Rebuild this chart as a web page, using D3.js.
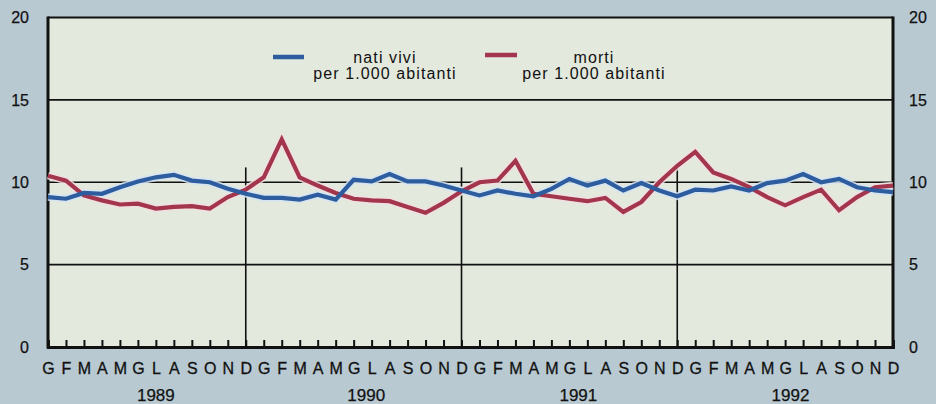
<!DOCTYPE html>
<html>
<head>
<meta charset="utf-8">
<script src="https://cdn.jsdelivr.net/npm/d3@7"></script>
<style>
  html, body { margin: 0; padding: 0; background: #b8c9d1; }
  svg { display: block; font-family: "Liberation Sans", Arial, Helvetica, sans-serif; }
</style>
</head>
<body>
<svg id="chart" width="936" height="404"></svg>
<script>
// ---- data ----
const months = ["G","F","M","A","M","G","L","A","S","O","N","D"];
const years = ["1989","1990","1991","1992"];
const yTicks = [0, 5, 10, 15, 20];
const seriesNames = ["nati vivi", "morti"];
const legendSub = "per 1.000 abitanti";
const natiVivi = [
  9.1, 9.0, 9.35, 9.3, 9.7, 10.05, 10.3, 10.45, 10.1, 10.0, 9.6, 9.3,
  9.05, 9.05, 8.95, 9.25, 8.95, 10.15, 10.05, 10.5, 10.05, 10.05, 9.8, 9.5,
  9.2, 9.5, 9.3, 9.15, 9.6, 10.2, 9.8, 10.1, 9.5, 9.95, 9.5, 9.15,
  9.55, 9.5, 9.75, 9.5, 9.95, 10.1, 10.5, 10.0, 10.2, 9.7, 9.5, 9.4
];
const morti = [
  10.4, 10.1, 9.2, 8.9, 8.65, 8.7, 8.4, 8.5, 8.55, 8.4, 9.1, 9.55,
  10.3, 12.6, 10.3, 9.8, 9.35, 9.0, 8.9, 8.85, 8.5, 8.15, 8.75, 9.45,
  10.0, 10.1, 11.3, 9.3, 9.15, 9.0, 8.85, 9.05, 8.2, 8.8, 10.0, 11.0,
  11.85, 10.6, 10.2, 9.7, 9.1, 8.6, 9.1, 9.55, 8.3, 9.1, 9.7, 9.8
];

// ---- layout ----
const svg = d3.select("#chart");
const L = 48, R = 893, T = 17.5, B = 347;
const n = natiVivi.length;
const x = d3.scaleLinear().domain([0, n - 1]).range([L, R]);
const y = d3.scaleLinear().domain([0, 20]).range([B, T]);

// outer background
svg.append("rect").attr("width", 936).attr("height", 404).attr("fill", "#b8c9d1");
// plot background
svg.append("rect").attr("x", L).attr("y", T).attr("width", R - L).attr("height", B - T)
  .attr("fill", "#e3e9dd");

// horizontal grid lines
svg.append("g").selectAll("line").data(yTicks.filter(d => d > 0 && d < 20)).join("line")
  .attr("x1", L).attr("x2", R).attr("y1", d => y(d)).attr("y2", d => y(d))
  .attr("stroke", "#111").attr("stroke-width", 1.6);

// year dividers
svg.append("g").selectAll("line").data(d3.range(1, years.length)).join("line")
  .attr("x1", d => x(d * 12 - 1)).attr("x2", d => x(d * 12 - 1))
  .attr("y1", y(10.9)).attr("y2", B)
  .attr("stroke", "#111").attr("stroke-width", 1.6);

// frame
svg.append("line").attr("x1", L).attr("x2", R).attr("y1", T).attr("y2", T)
  .attr("stroke", "#111").attr("stroke-width", 2);
svg.append("line").attr("x1", L).attr("x2", L).attr("y1", T - 1).attr("y2", B + 1.5)
  .attr("stroke", "#111").attr("stroke-width", 3);
svg.append("line").attr("x1", R).attr("x2", R).attr("y1", T - 1).attr("y2", B + 1.5)
  .attr("stroke", "#111").attr("stroke-width", 3);

// x axis with month ticks
const xAxis = d3.axisBottom(x)
  .tickValues(d3.range(n))
  .tickSize(-7)
  .tickPadding(14)
  .tickFormat(i => months[i % 12]);
const gx = svg.append("g").attr("transform", `translate(0,${B})`).call(xAxis);
gx.select(".domain").attr("stroke", "#111").attr("stroke-width", 3);
gx.selectAll(".tick line").attr("stroke", "#111").attr("stroke-width", 2);
gx.selectAll(".tick text").attr("font-size", 16).attr("fill", "#111")
  .attr("stroke", "#111").attr("stroke-width", 0.3)
  .attr("font-family", "Liberation Sans, Arial, sans-serif")
  .attr("dy", "0.71em").attr("y", 15.5);

// year labels
const yearPos = [6, 17.7, 29.5, 41.3];
svg.append("g").selectAll("text").data(years).join("text")
  .attr("x", (d, i) => x(yearPos[i])).attr("y", 401)
  .attr("text-anchor", "middle").attr("font-size", 17).attr("fill", "#111")
  .attr("stroke", "#111").attr("stroke-width", 0.25)
  .text(d => d);

// left axis labels
const yLeft = d3.axisLeft(y).tickValues(yTicks).tickSize(0).tickPadding(19);
const gl = svg.append("g").attr("transform", `translate(${L},0)`).call(yLeft);
gl.select(".domain").remove();
gl.selectAll("text").attr("font-size", 16).attr("fill", "#111")
  .attr("stroke", "#111").attr("stroke-width", 0.25)
  .attr("font-family", "Liberation Sans, Arial, sans-serif");

// right axis labels
const yRight = d3.axisRight(y).tickValues(yTicks).tickSize(0).tickPadding(16);
const gr = svg.append("g").attr("transform", `translate(${R},0)`).call(yRight);
gr.select(".domain").remove();
gr.selectAll("text").attr("font-size", 16).attr("fill", "#111")
  .attr("stroke", "#111").attr("stroke-width", 0.25)
  .attr("font-family", "Liberation Sans, Arial, sans-serif");

// lines
const line = d3.line().x((d, i) => x(i)).y(d => y(d));
const series = [
  { data: morti, color: "#a3364d", halo: "#f1dfe2" },
  { data: natiVivi, color: "#2d5c9f", halo: "#d3e4f2" }
];
series.forEach(s => {
  svg.append("path").datum(s.data).attr("d", line)
    .attr("fill", "none").attr("stroke", s.halo).attr("stroke-width", 7.5)
    .attr("stroke-linejoin", "miter").attr("opacity", 0.85);
});
series.forEach(s => {
  svg.append("path").datum(s.data).attr("d", line)
    .attr("fill", "none").attr("stroke", s.color).attr("stroke-width", 4.2)
    .attr("stroke-linejoin", "miter");
});

// legend
const legend = [
  { name: seriesNames[0], color: "#2d5c9f", x1: 273, x2: 304, ly: 57, tx: 385 },
  { name: seriesNames[1], color: "#a3364d", x1: 485, x2: 517, ly: 55, tx: 594 }
];
legend.forEach(l => {
  svg.append("line").attr("x1", l.x1).attr("x2", l.x2).attr("y1", l.ly).attr("y2", l.ly)
    .attr("stroke", l.color).attr("stroke-width", 4.5);
  svg.append("text").attr("x", l.tx).attr("y", 62.5).attr("text-anchor", "middle")
    .attr("font-size", 16).attr("letter-spacing", 1.1).attr("fill", "#111").text(l.name);
  svg.append("text").attr("x", l.tx).attr("y", 79).attr("text-anchor", "middle")
    .attr("font-size", 16).attr("letter-spacing", 1.1).attr("fill", "#111").text(legendSub);
});
</script>
</body>
</html>
